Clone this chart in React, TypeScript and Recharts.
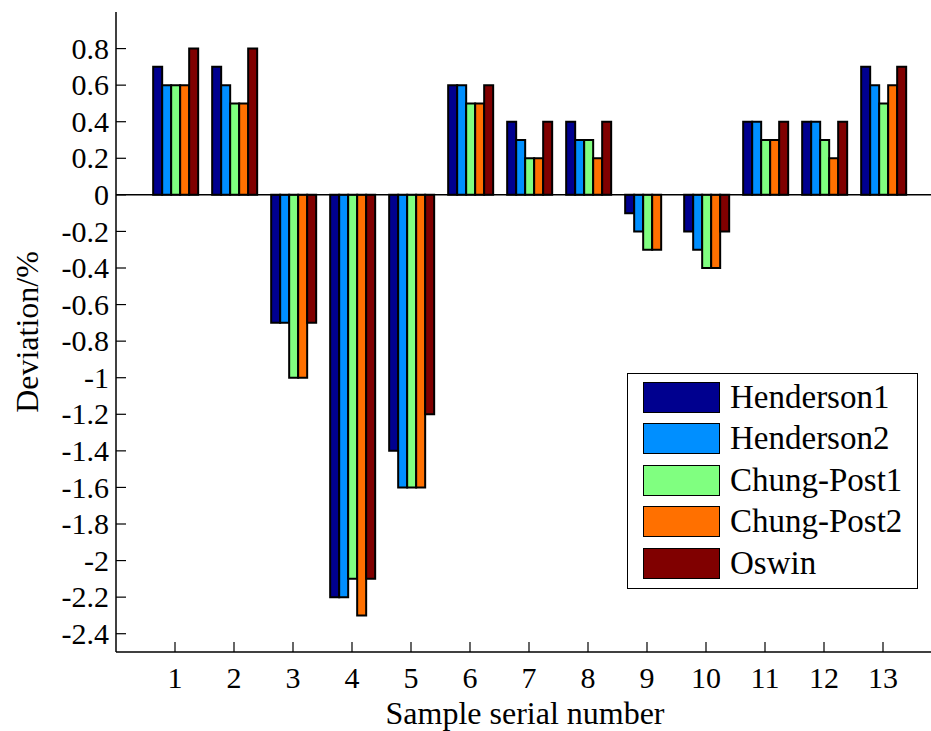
import React from 'react';
import { BarChart, Bar, XAxis, YAxis, ReferenceLine } from 'recharts';

// sample numbers on the x axis
const samples = ['1', '2', '3', '4', '5', '6', '7', '8', '9', '10', '11', '12', '13'];

// deviation (%) of each model per sample
const henderson1 = [0.7, 0.7, -0.7, -2.2, -1.4, 0.6, 0.4, 0.4, -0.1, -0.2, 0.4, 0.4, 0.7];
const henderson2 = [0.6, 0.6, -0.7, -2.2, -1.6, 0.6, 0.3, 0.3, -0.2, -0.3, 0.4, 0.4, 0.6];
const chungPost1 = [0.6, 0.5, -1.0, -2.1, -1.6, 0.5, 0.2, 0.3, -0.3, -0.4, 0.3, 0.3, 0.5];
const chungPost2 = [0.6, 0.5, -1.0, -2.3, -1.6, 0.5, 0.2, 0.2, -0.3, -0.4, 0.3, 0.2, 0.6];
const oswin = [0.8, 0.8, -0.7, -2.1, -1.2, 0.6, 0.4, 0.4, 0, -0.2, 0.4, 0.4, 0.7];

const seriesNames = ['Henderson1', 'Henderson2', 'Chung-Post1', 'Chung-Post2', 'Oswin'];
const seriesKeys = ['h1', 'h2', 'cp1', 'cp2', 'oswin'];
const seriesColors = ['#00008F', '#008FFF', '#80FF80', '#FF7000', '#800000'];

const yTicks = [0.8, 0.6, 0.4, 0.2, 0, -0.2, -0.4, -0.6, -0.8, -1, -1.2, -1.4, -1.6, -1.8, -2, -2.2, -2.4];

const data = samples.map((name, i) => ({
  name,
  h1: henderson1[i],
  h2: henderson2[i],
  cp1: chungPost1[i],
  cp2: chungPost2[i],
  oswin: oswin[i],
}));

const FONT = "'Liberation Serif', 'DejaVu Serif', 'Times New Roman', Times, serif";

const YTick = (props: any) => {
  const { x, y, payload } = props;
  return (
    <g>
      <line x1={x} x2={x + 10} y1={y} y2={y} stroke="#000" strokeWidth={1.2} />
      <text x={x - 7} y={y} dy="0.34em" textAnchor="end" style={{ fontFamily: FONT }} fontSize={30} fill="#000">
        {String(payload.value)}
      </text>
    </g>
  );
};

const XTick = (props: any) => {
  const { x, y, payload } = props;
  return (
    <g>
      <line x1={x} x2={x} y1={y} y2={y - 10} stroke="#000" strokeWidth={1.2} />
      <text x={x} y={y + 36} textAnchor="middle" style={{ fontFamily: FONT }} fontSize={30} fill="#000">
        {payload.value}
      </text>
    </g>
  );
};

export default function App() {
  return (
    <div
      style={{
        position: 'absolute',
        left: 0,
        top: 0,
        width: 931,
        height: 731,
        overflow: 'hidden',
        background: '#fff',
        fontFamily: FONT,
      }}
    >
      <BarChart
        width={1000}
        height={731}
        data={data}
        margin={{ top: 12, right: 58, bottom: 0, left: 0 }}
        barCategoryGap="13%"
        barGap={0}
      >
        <XAxis
          dataKey="name"
          height={79}
          padding={{ left: 29.5, right: 29.5 }}
          axisLine={{ stroke: '#000', strokeWidth: 1.5 }}
          tickLine={false}
          tickSize={0}
          tickMargin={0}
          interval={0}
          tick={<XTick />}
        />
        <YAxis
          type="number"
          width={116}
          domain={[-2.5, 1]}
          ticks={yTicks}
          interval={0}
          allowDataOverflow
          axisLine={{ stroke: '#000', strokeWidth: 1.5 }}
          tickLine={false}
          tickSize={0}
          tickMargin={0}
          tick={<YTick />}
        />
        <ReferenceLine y={0} stroke="#000" strokeWidth={1.5} />
        {seriesKeys.map((k, i) => (
          <Bar
            key={k}
            dataKey={k}
            name={seriesNames[i]}
            fill={seriesColors[i]}
            stroke="#000"
            strokeWidth={2}
            isAnimationActive={false}
          />
        ))}
      </BarChart>

      {/* axis titles */}
      <div
        style={{
          position: 'absolute',
          left: 27,
          top: 332,
          transform: 'translate(-50%, -50%) rotate(-90deg)',
          fontSize: 32,
          whiteSpace: 'nowrap',
          lineHeight: 1,
        }}
      >
        Deviation/%
      </div>
      <div
        style={{
          position: 'absolute',
          left: 525,
          top: 697,
          transform: 'translateX(-50%)',
          fontSize: 32,
          whiteSpace: 'nowrap',
          lineHeight: 1,
        }}
      >
        Sample serial number
      </div>

      {/* legend */}
      <div
        style={{
          position: 'absolute',
          left: 627,
          top: 373,
          width: 289,
          height: 214,
          border: '1.5px solid #000',
          background: '#fff',
          fontSize: 33,
        }}
      >
        {seriesNames.map((n, i) => (
          <div
            key={n}
            style={{ position: 'absolute', left: 15, top: 8 + i * 41.4, height: 31, display: 'flex', alignItems: 'center' }}
          >
            <div
              style={{
                width: 75,
                height: 29,
                background: seriesColors[i],
                border: '1.5px solid #000',
                marginRight: 10,
              }}
            />
            <span style={{ lineHeight: 1 }}>{n}</span>
          </div>
        ))}
      </div>
    </div>
  );
}
